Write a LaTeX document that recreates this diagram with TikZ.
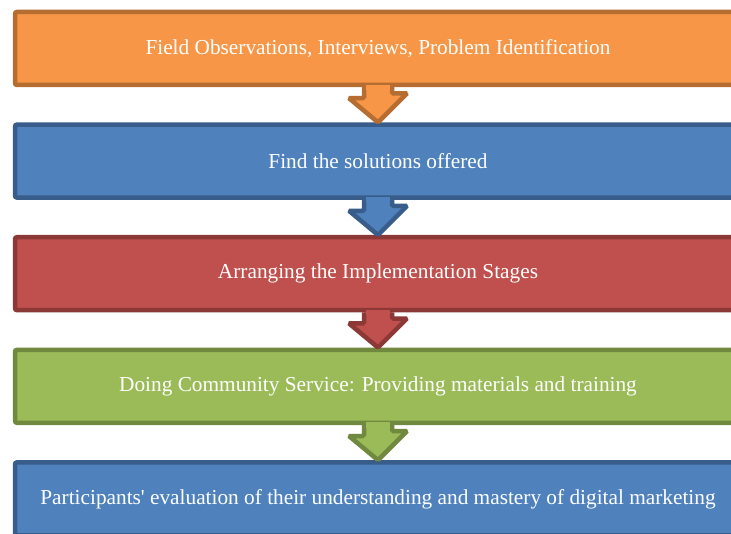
\documentclass[tikz,border=0pt]{standalone}
\usepackage{fontspec}
\setmainfont{Liberation Serif}
\definecolor{orangefill}{HTML}{F79646}
\definecolor{orangeline}{HTML}{B66D31}
\definecolor{bluefill}{HTML}{4F81BD}
\definecolor{blueline}{HTML}{385D8A}
\definecolor{redfill}{HTML}{C0504D}
\definecolor{redline}{HTML}{8C3836}
\definecolor{greenfill}{HTML}{9BBB59}
\definecolor{greenline}{HTML}{71893F}
\begin{document}
\begin{tikzpicture}[x=1pt,y=-1pt,
  stepbox/.style={rectangle, rounded corners=2pt, line width=4.5pt,
    minimum width=726pt, minimum height=73pt, inner sep=0pt,
    text=white, font=\fontsize{21.3}{24}\selectfont},
  downarrow/.style={line width=4.5pt, rounded corners=1.5pt},
  orangestep/.style={fill=orangefill, draw=orangeline},
  bluestep/.style={fill=bluefill, draw=blueline},
  redstep/.style={fill=redfill, draw=redline},
  greenstep/.style={fill=greenfill, draw=greenline}]
\useasboundingbox (0,0) rectangle (731,534);

% boxes are drawn bottom-up so each arrow tip lies over the next box
\node[stepbox, bluestep] (s5) at (378,498.9)
  {Participants\textquotesingle{} evaluation of their understanding and mastery of digital marketing};

\foreach \name/\below/\ypos/\sty/\fillc/\txt in {
  s4/s5/386.3/greenstep/greenfill/{Doing Community Service: Providing materials and training},
  s3/s4/273.7/redstep/redfill/{Arranging the Implementation Stages},
  s2/s3/161.1/bluestep/bluefill/{Find the solutions offered},
  s1/s2/48.5/orangestep/orangefill/{Field Observations, Interviews, Problem Identification}}
{
  \node[stepbox, \sty] (\name) at (378,\ypos) {\txt};
  % block arrow leaving the bottom edge of the box
  \draw[downarrow, \sty]
    ([xshift=-14pt]\name.south) -- ++(0,11) -- ++(-15,0) -- (\below.north)
    -- ++(29,-29) -- ++(-15,0) -- ([xshift=14pt]\name.south);
  % open the box border where the arrow shaft joins it
  \fill[\fillc] ([xshift=-11.7pt,yshift=2.6pt]\name.south)
    rectangle ([xshift=11.7pt,yshift=-2.6pt]\name.south);
}
\end{tikzpicture}
\end{document}
